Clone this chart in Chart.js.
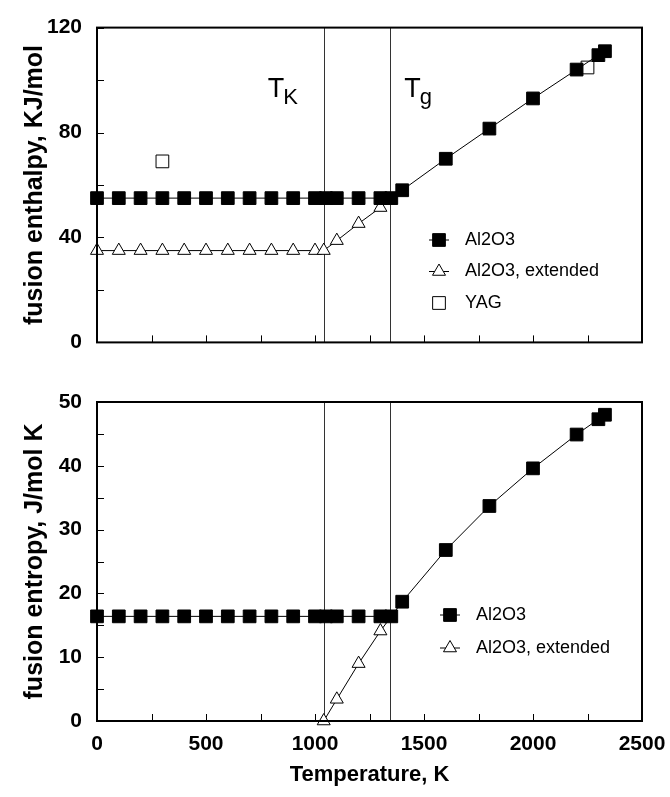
<!DOCTYPE html>
<html>
<head>
<meta charset="utf-8">
<script src="https://cdn.jsdelivr.net/npm/chart.js@4.4.0/dist/chart.umd.min.js"></script>
<style>
  body { margin: 0; background: #fff; }
  #wrap { position: relative; width: 670px; height: 797px; }
  canvas { position: absolute; left: 0; }
</style>
</head>
<body>
<div id="wrap">
  <canvas id="enthalpyChart" width="670" height="370" style="top:0"></canvas>
  <canvas id="entropyChart" width="670" height="427" style="top:370px"></canvas>
</div>
<script>
// datos
const tempAl2O3 = [0, 100, 200, 300, 400, 500, 600, 700, 800, 900, 1000, 1050, 1100, 1200, 1300, 1350, 1400, 1600, 1800, 2000, 2200, 2300, 2330];
const enthalpyAl2O3 = [55, 55, 55, 55, 55, 55, 55, 55, 55, 55, 55, 55, 55, 55, 55, 55, 58, 70, 81.5, 93, 104, 109.5, 111];
const entropyAl2O3 = [16.4, 16.4, 16.4, 16.4, 16.4, 16.4, 16.4, 16.4, 16.4, 16.4, 16.4, 16.4, 16.4, 16.4, 16.4, 16.4, 18.7, 26.8, 33.7, 39.6, 44.9, 47.3, 48];

const tempExtTop = [0, 100, 200, 300, 400, 500, 600, 700, 800, 900, 1000, 1040, 1100, 1200, 1300, 1350];
const enthalpyExt = [35, 35, 35, 35, 35, 35, 35, 35, 35, 35, 35, 35, 38.8, 45.3, 51.4, 55];
const tempExtBottom = [1040, 1100, 1200, 1300, 1350];
const entropyExt = [0, 3.4, 9, 14.1, 16.4];

const tempYAG = [300, 2250];
const enthalpyYAG = [69, 104.8];

const tempTK = 1040;
const tempTg = 1345;

const tempTicks = [0, 250, 500, 750, 1000, 1250, 1500, 1750, 2000, 2250, 2500];
const tempLabels = [0, 500, 1000, 1500, 2000, 2500];
const enthalpyTicks = [0, 20, 40, 60, 80, 100, 120];
const enthalpyLabels = [0, 40, 80, 120];
const entropyTicks = [0, 5, 10, 15, 20, 25, 30, 35, 40, 45, 50];
const entropyLabels = [0, 10, 20, 30, 40, 50];

const toXY = (xs, ys) => xs.map((x, i) => ({ x: x, y: ys[i] }));

// marcador simple para la leyenda
function drawMarker(ctx, style, x, y, r, fill) {
    ctx.beginPath();
    if (style === 'rect') {
        const s = r * Math.SQRT2;
        ctx.rect(x - s / 2, y - s / 2, s, s);
    } else {
        ctx.moveTo(x, y - r);
        ctx.lineTo(x + r * Math.sin(2 * Math.PI / 3), y + r / 2);
        ctx.lineTo(x - r * Math.sin(2 * Math.PI / 3), y + r / 2);
        ctx.closePath();
    }
    ctx.fillStyle = fill;
    ctx.fill();
    ctx.strokeStyle = '#000';
    ctx.lineWidth = 1;
    ctx.stroke();
}

// marco, lineas Tk/Tg, ticks hacia adentro, leyenda
const decor = {
    id: 'decor',
    beforeDatasetsDraw(chart) {
        const { ctx, chartArea: a, scales: { x } } = chart;
        ctx.save();
        ctx.strokeStyle = '#333';
        ctx.lineWidth = 1;
        [tempTK, tempTg].forEach(t => {
            const px = Math.round(x.getPixelForValue(t)) + 0.5;
            ctx.beginPath();
            ctx.moveTo(px, a.top);
            ctx.lineTo(px, a.bottom);
            ctx.stroke();
        });
        ctx.restore();
    },
    afterDraw(chart, args, opts) {
        const { ctx, chartArea: a, scales: { x, y } } = chart;
        ctx.save();
        ctx.strokeStyle = '#000';
        ctx.lineWidth = 1;
        y.ticks.forEach(t => {
            const py = Math.round(y.getPixelForValue(t.value)) + 0.5;
            ctx.beginPath();
            ctx.moveTo(a.left, py);
            ctx.lineTo(a.left + 7, py);
            ctx.stroke();
        });
        tempTicks.forEach(t => {
            const px = Math.round(x.getPixelForValue(t)) + 0.5;
            ctx.beginPath();
            ctx.moveTo(px, a.bottom);
            ctx.lineTo(px, a.bottom - 7);
            ctx.stroke();
        });
        ctx.lineWidth = 2;
        ctx.strokeRect(a.left, a.top, a.right - a.left, a.bottom - a.top);

        // leyenda
        ctx.font = '18px "Liberation Sans", Arial, sans-serif';
        ctx.textBaseline = 'middle';
        opts.items.forEach((it, i) => {
            const ly = opts.y + i * opts.gap;
            if (it.line) {
                ctx.lineWidth = 1;
                ctx.strokeStyle = '#000';
                ctx.beginPath();
                ctx.moveTo(opts.x - 10, ly);
                ctx.lineTo(opts.x + 10, ly);
                ctx.stroke();
            }
            drawMarker(ctx, it.style, opts.x, ly, it.r, it.fill);
            ctx.fillStyle = '#000';
            ctx.fillText(it.text, opts.x + 26, ly);
        });

        // etiquetas Tk y Tg
        if (opts.temps) {
            const big = '27px "Liberation Sans", Arial, sans-serif';
            const small = '22px "Liberation Sans", Arial, sans-serif';
            ctx.textBaseline = 'alphabetic';
            opts.temps.forEach(tl => {
                const px = x.getPixelForValue(tl.t) + tl.dx;
                ctx.font = big;
                ctx.fillText('T', px, tl.y);
                const w = ctx.measureText('T').width;
                ctx.font = small;
                ctx.fillText(tl.sub, px + w - 1, tl.y + 7);
            });
        }
        ctx.restore();
    }
};

const tickFont = { family: '"Liberation Sans", Arial, sans-serif', size: 21, weight: 'bold' };
const titleFont = { family: '"Liberation Sans", Arial, sans-serif', size: 25, weight: 'bold' };

function yAxis(min, max, ticks, labels, title) {
    return {
        type: 'linear',
        min: min,
        max: max,
        grid: { display: false, drawTicks: false },
        border: { display: false },
        afterBuildTicks: s => { s.ticks = ticks.map(v => ({ value: v })); },
        afterFit: s => { s.width = 97; },
        ticks: {
            color: '#000',
            font: tickFont,
            padding: 15,
            callback: v => labels.includes(v) ? String(v) : ''
        },
        title: {
            display: true,
            text: title,
            color: '#000',
            font: titleFont,
            padding: { top: 20, bottom: 0 }
        }
    };
}

const al2o3Style = {
    label: 'Al2O3',
    showLine: true,
    borderColor: '#000',
    borderWidth: 1,
    pointStyle: 'rect',
    pointRadius: 9,
    pointBackgroundColor: '#000',
    pointBorderColor: '#000',
    pointBorderWidth: 1,
    clip: false
};

function extStyle(n) {
    return {
        label: 'Al2O3, extended',
        showLine: true,
        borderColor: '#000',
        borderWidth: 1,
        pointStyle: 'triangle',
        pointRadius: c => c.dataIndex === n - 1 ? 0 : 7.5,
        pointBackgroundColor: '#fff',
        pointBorderColor: '#000',
        pointBorderWidth: 1,
        clip: false
    };
}

// grafica superior: entalpia
new Chart(document.getElementById('enthalpyChart').getContext('2d'), {
    type: 'scatter',
    data: {
        datasets: [
            Object.assign({ data: toXY(tempAl2O3, enthalpyAl2O3) }, al2o3Style),
            Object.assign({ data: toXY(tempExtTop, enthalpyExt) }, extStyle(tempExtTop.length)),
            {
                label: 'YAG',
                data: toXY(tempYAG, enthalpyYAG),
                showLine: false,
                pointStyle: 'rect',
                pointRadius: 9,
                pointBackgroundColor: 'rgba(0,0,0,0)',
                pointBorderColor: '#000',
                pointBorderWidth: 1,
                clip: false
            }
        ]
    },
    options: {
        responsive: false,
        animation: false,
        layout: { padding: { top: 23, right: 28, bottom: 20, left: 0 } },
        plugins: {
            legend: { display: false },
            tooltip: { enabled: false },
            decor: {
                x: 439, y: 240, gap: 31.5,
                items: [
                    { text: 'Al2O3', style: 'rect', r: 9, fill: '#000', line: true },
                    { text: 'Al2O3, extended', style: 'triangle', r: 7.5, fill: '#fff', line: true },
                    { text: 'YAG', style: 'rect', r: 9, fill: '#fff', line: false }
                ],
                temps: [
                    { t: tempTK, dx: -56, y: 97, sub: 'K' },
                    { t: tempTg, dx: 14, y: 97, sub: 'g' }
                ]
            }
        },
        scales: {
            x: { type: 'linear', min: 0, max: 2500, display: false },
            y: yAxis(0, 120, enthalpyTicks, enthalpyLabels, 'fusion enthalpy, KJ/mol')
        }
    },
    plugins: [decor]
});

// grafica inferior: entropia
new Chart(document.getElementById('entropyChart').getContext('2d'), {
    type: 'scatter',
    data: {
        datasets: [
            Object.assign({ data: toXY(tempAl2O3, entropyAl2O3) }, al2o3Style),
            Object.assign({ data: toXY(tempExtBottom, entropyExt) }, extStyle(tempExtBottom.length))
        ]
    },
    options: {
        responsive: false,
        animation: false,
        layout: { padding: { top: 32, right: 28, bottom: 0, left: 0 } },
        plugins: {
            legend: { display: false },
            tooltip: { enabled: false },
            decor: {
                x: 450, y: 245, gap: 33,
                items: [
                    { text: 'Al2O3', style: 'rect', r: 9, fill: '#000', line: true },
                    { text: 'Al2O3, extended', style: 'triangle', r: 7.5, fill: '#fff', line: true }
                ]
            }
        },
        scales: {
            x: {
                type: 'linear',
                min: 0,
                max: 2500,
                grid: { display: false, drawTicks: false },
                border: { display: false },
                afterBuildTicks: s => { s.ticks = tempLabels.map(v => ({ value: v })); },
                afterFit: s => { s.height = 76; s.paddingRight = 0; s.paddingLeft = 0; },
                ticks: { color: '#000', font: tickFont, padding: 11, maxRotation: 0, callback: v => String(v) },
                title: {
                    display: true,
                    text: 'Temperature, K',
                    color: '#000',
                    font: { family: '"Liberation Sans", Arial, sans-serif', size: 22, weight: 'bold' },
                    padding: { top: 0, bottom: 9 }
                }
            },
            y: yAxis(0, 50, entropyTicks, entropyLabels, 'fusion entropy, J/mol K')
        }
    },
    plugins: [decor]
});
</script>
</body>
</html>
